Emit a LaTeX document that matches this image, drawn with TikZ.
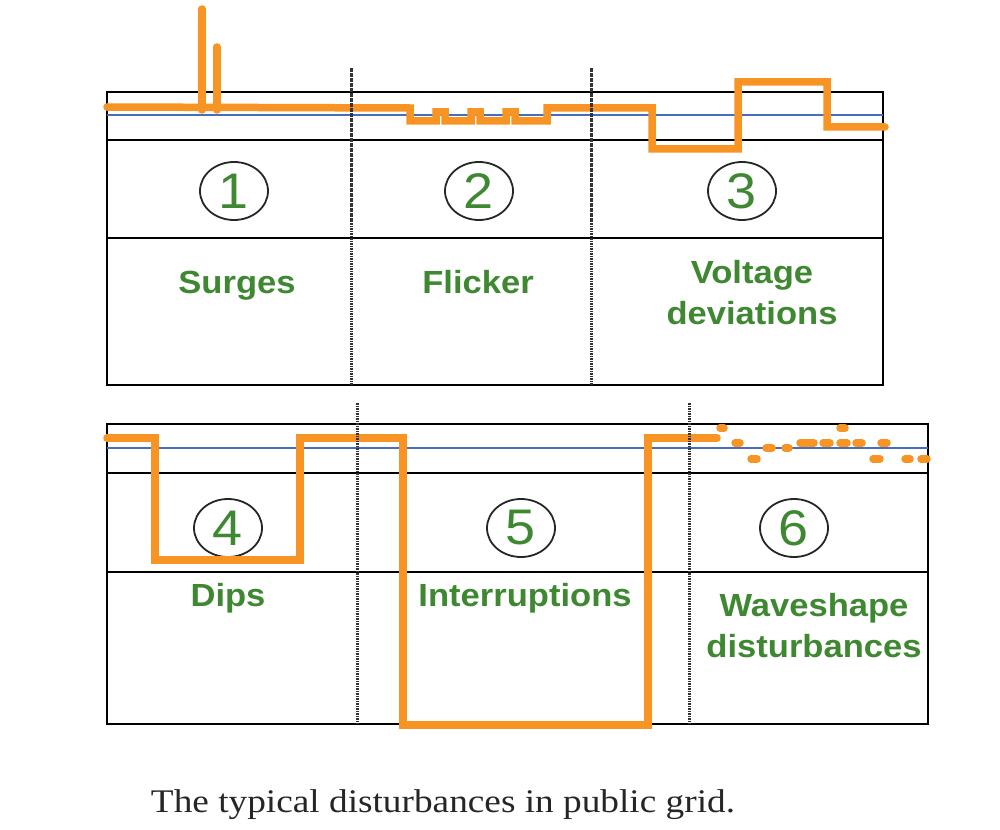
\documentclass[tikz,border=0pt]{standalone}
\usepackage{fontspec}
\setmainfont{Liberation Serif}
\setsansfont{Liberation Sans}
\usetikzlibrary{shapes.geometric}
\definecolor{SignalClr}{RGB}{247,148,35}
\definecolor{LabelClr}{RGB}{62,136,50}
\definecolor{NominalClr}{RGB}{70,110,190}
\newcommand{\widetext}[1]{\scalebox{1.08}[1]{#1}}

\tikzset{
  frame/.style={draw=black,line width=1.8pt},
  sepline/.style={draw=black!80,line width=3pt,dash pattern=on 1.6pt off 0.9pt},
  nominal/.style={draw=NominalClr,line width=1.2pt},
  signal/.style={draw=SignalClr,line width=7.5pt,line join=miter,line cap=round},
  blip/.style={draw=SignalClr,line width=7.5pt,line cap=round},
  numring/.style={ellipse,draw=black!85,line width=1.8pt,minimum width=68pt,
    minimum height=58pt,inner sep=0pt,text=LabelClr,
    font=\sffamily\fontsize{50}{50}\selectfont},
  kind/.style={anchor=base,text=LabelClr,inner sep=0pt,
    font=\sffamily\bfseries\fontsize{32}{41}\selectfont}
}

\begin{document}
\begin{tikzpicture}[x=1pt,y=-1pt]
\useasboundingbox (0,0) rectangle (1000,829);

% Upper panel: frame, rows and nominal level.
\draw[frame] (107,92) rectangle (883,385);
\draw[frame] (107,140) -- (883,140);
\draw[frame] (107,238) -- (883,238);
\draw[nominal] (107,115) -- (883,115);

% Lower panel.
\draw[frame] (107,424) rectangle (928,724);
\draw[frame] (107,473) -- (928,473);
\draw[frame] (107,572) -- (928,572);
\draw[nominal] (107,448) -- (928,448);

% Numbers in rings.
\node[numring] (n1) at (234,191) {\widetext{1}};
\node[numring] (n2) at (479,191) {\widetext{2}};
\node[numring] (n3) at (742,191) {\widetext{3}};
\node[numring] (n4) at (228,528) {\widetext{4}};
\node[numring] (n5) at (521,528) {\widetext{5}};
\node[numring] (n6) at (794,528) {\widetext{6}};

% Names of the disturbances.
\node[kind] (surges) at (237,293) {\widetext{Surges}};
\node[kind] (flicker) at (478,293) {\widetext{Flicker}};
\node[kind] (deviation) at (752,283)
  {\widetext{\begin{tabular}[t]{@{}c@{}}Voltage\\deviations\end{tabular}}};
\node[kind] (dips) at (228,606) {\widetext{Dips}};
\node[kind] (interrupt) at (525,606) {\widetext{Interruptions}};
\node[kind] (waveshape) at (814,616)
  {\widetext{\begin{tabular}[t]{@{}c@{}}Waveshape\\disturbances\end{tabular}}};

% Voltage course in the upper panel.
\draw[signal] (202,110) -- (202,9);
\draw[signal] (217,110) -- (217,47);
\draw[signal] (107,107) -- (410,108) -- (410,121)
  \foreach \k in {1,2,3} { -- ++(26,0) -- ++(0,-9) -- ++(9,0) -- ++(0,9) }
  -- ++(32,0) -- ++(0,-13) -- (652,108) -- (652,149) -- (738,149)
  -- (738,82) -- (827,82) -- (827,127) -- (885,127);

% Voltage course in the lower panel.
\draw[signal] (107,438) -- (155,438) -- (155,560) -- (300,560) -- (300,438)
  -- (403,438) -- (403,725) -- (648,725) -- (648,438) -- (717,438);
\foreach \xa/\xb/\yy in {720/724/428, 735/740/443, 751/757/459, 766/772/448,
    785/789/448, 800/814/443, 823/830/443, 840/845/428, 840/847/443,
    856/862/443, 873/880/459, 881/887/443, 905/910/459, 921/927/459}
  \draw[blip] (\xa,\yy) -- (\xb,\yy);

% Dotted borders between the cases.
\draw[sepline] (351,68) -- (351,385);
\draw[sepline] (591,68) -- (591,385);
\draw[sepline] (357,403) -- (357,724);
\draw[sepline] (689,403) -- (689,724);

% Caption.
\node[anchor=base,inner sep=0pt,text=black!85,
  font=\fontsize{33}{33}\selectfont] (caption) at (443,812)
  {\scalebox{1.13}[1]{The typical disturbances in public grid.}};
\end{tikzpicture}
\end{document}
